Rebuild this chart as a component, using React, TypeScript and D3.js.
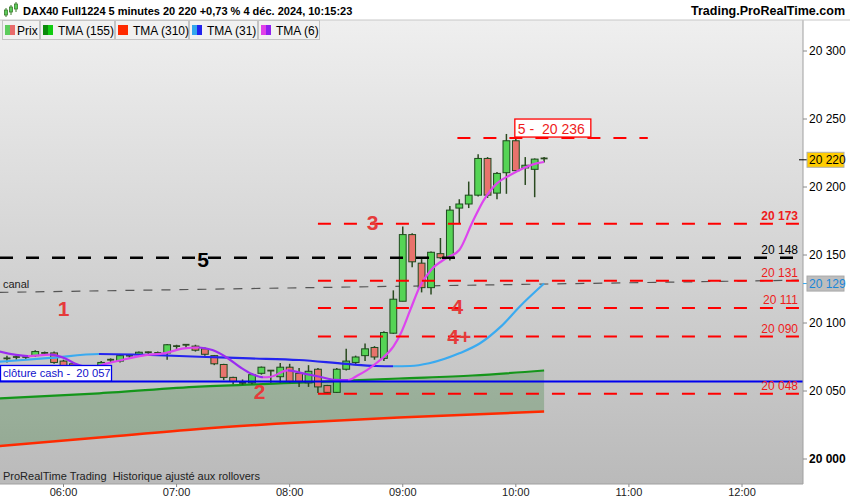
import {useEffect} from 'react';
import * as d3 from 'd3';

// candles, 5 minute bars from 05:30
const candleStart = '05:30';
const opens = [20074, 20074, 20075, 20076, 20078, 20078, 20072, 20070, 20066, 20064, 20068, 20073, 20072, 20076, 20077, 20078.5, 20078, 20078, 20083, 20084, 20083, 20081, 20076, 20069.5, 20060, 20056, 20056, 20063, 20065, 20060.5, 20067.5, 20063, 20056, 20066, 20054, 20049, 20066, 20071, 20076, 20082, 20074, 20092.5, 20116, 20165, 20144, 20126, 20151, 20148, 20184.5, 20187.5, 20194, 20221, 20195.5, 20210.5, 20234, 20214, 20213, 20221];
const highs = [20076, 20077, 20076, 20080, 20079, 20079, 20073, 20071, 20067, 20066, 20072, 20074, 20077, 20077, 20079, 20079, 20079, 20084.5, 20084, 20084.5, 20084, 20082, 20076.5, 20070, 20060.5, 20058.5, 20063, 20068, 20065.5, 20070.5, 20070, 20067, 20069, 20067, 20054.5, 20067, 20081, 20076, 20085, 20083, 20094, 20124, 20171, 20166, 20147, 20152.5, 20162.5, 20186, 20191, 20204, 20224, 20222, 20211, 20239, 20245, 20222, 20221, 20222];
const lows = [20071, 20073, 20073, 20075, 20076, 20070, 20067, 20066, 20063, 20063, 20067, 20071, 20071, 20074, 20076, 20077, 20076, 20073, 20081, 20081, 20079, 20076, 20069, 20058, 20055, 20054.5, 20055, 20062, 20056, 20056, 20056, 20053, 20053, 20048.5, 20048.5, 20048.5, 20065, 20069, 20072, 20073, 20072, 20092, 20116, 20141, 20122.5, 20121, 20147, 20146, 20173.5, 20184.5, 20193, 20192, 20191, 20195, 20211, 20201.5, 20192.5, 20218];
const closes = [20073, 20075, 20074, 20079, 20077, 20071, 20068, 20068, 20064, 20065, 20071, 20072, 20076, 20076, 20078.5, 20077.5, 20077, 20084, 20082, 20084, 20080, 20077, 20070, 20060, 20057, 20056, 20062, 20067.5, 20065, 20067.5, 20057, 20057, 20064.5, 20053, 20049, 20066, 20072, 20075, 20081, 20075, 20093, 20117.5, 20165, 20145, 20126, 20152, 20148, 20183, 20187.5, 20194, 20221, 20194, 20210, 20234, 20212, 20216, 20220.5, 20220];

// TMA (6)
const tma6Times = ['05:26', '05:41', '05:53', '06:01', '06:06', '06:11', '06:15', '06:22', '06:31', '06:42', '06:54', '07:04', '07:12', '07:19', '07:27', '07:34', '07:40', '07:46', '07:50', '07:59', '08:07', '08:16', '08:24', '08:31', '08:36', '08:41', '08:48', '08:55', '08:59', '09:04', '09:09', '09:15', '09:23', '09:30', '09:37', '09:43', '09:50', '09:57', '10:04', '10:11', '10:15'];
const tma6Values = [20079, 20075.7, 20076.8, 20073.9, 20070.2, 20068, 20067.4, 20069.9, 20072.8, 20076, 20077.9, 20081.3, 20082, 20080.1, 20074.3, 20067.3, 20062.5, 20060.1, 20060.5, 20065.1, 20063, 20060.5, 20058.2, 20058, 20061.4, 20065.4, 20072.8, 20082.6, 20092.4, 20109.6, 20126.7, 20139, 20147.6, 20153.7, 20174.3, 20190.4, 20202.7, 20208.8, 20213.8, 20217.4, 20218.4];

// TMA (31)
const tma31Times = ['05:26', '05:53', '06:19', '06:46', '07:12', '07:39', '08:05', '08:30', '08:46', '08:55', '09:04', '09:14', '09:30', '09:41', '09:52', '10:02', '10:15'];
const tma31Values = [20071.5, 20074.3, 20077.2, 20076.5, 20075.2, 20074, 20072.8, 20069.9, 20068.4, 20068.2, 20068.4, 20070.4, 20077.7, 20085.1, 20097.3, 20112, 20129];

// TMA (155) and TMA (310)
const longTimes = ['05:26', '06:19', '07:12', '08:05', '08:58', '09:37', '10:15'];
const tma155Values = [20044.6, 20048.3, 20053.2, 20056.1, 20059.2, 20061.4, 20065.1];
const tma310Values = [20009.6, 20015.8, 20022.1, 20026.8, 20030.5, 20032.7, 20034.9];

const levelPrices = [20173, 20131, 20111, 20090, 20048];
const targetPrice = 20236;
const pivotPrice = 20148;
const cashClose = 20057;
const lastPrice = 20220;
const tma31Last = 20129;
const canalTimes = ['05:26', '12:30'];
const canalValues = [20122.5, 20131.5];

const waveLabels = ['1', '2', '3', '4', '4+', '5'];
const waveTimes = ['06:00', '07:44', '08:44', '09:29', '09:30', '07:14'];
const waveValues = [20111, 20050, 20174.3, 20112.5, 20090.4, 20147];

const priceTicks = [20000, 20050, 20100, 20150, 20200, 20250, 20300];
const timeTicks = ['06:00', '07:00', '08:00', '09:00', '10:00', '11:00', '12:00'];

const legendItems = ['Prix', 'TMA (155)', 'TMA (310)', 'TMA (31)', 'TMA (6)'];

const W = 850;
const H = 500;
const plotRight = 803;
const plotTop = 20;
const plotBottom = 484;
const font = 'Liberation Sans, Arial, sans-serif';

const parse = (s: string) => {
  const [h, m] = s.split(':').map(Number);
  return new Date(2024, 11, 4, h, m);
};

const x = d3.scaleTime().domain([parse('06:00'), parse('12:00')]).range([63.5, 742]);
const y = d3.scaleLinear().domain([20000, 20300]).range([459, 51]);

const fmt = d3.formatLocale({decimal: ',', thousands: ' ', grouping: [3], currency: ['', '']}).format(',d');

const candles = opens.map((o, i) => ({
  t: d3.timeMinute.offset(parse(candleStart), 5 * i),
  o,
  h: highs[i],
  l: lows[i],
  c: closes[i],
}));

const pts = (times: string[], values: number[]) =>
  times.map((t, i) => [x(parse(t)), y(values[i])] as [number, number]);

const line = d3.line().curve(d3.curveMonotoneX);

// hard colour stops: rising colour vs falling colour
const slopeStops = (p: [number, number][], up: string, down: string) => {
  const stops: {o: number; c: string}[] = [];
  for (let k = 0; k < p.length - 1; k++) {
    const c = p[k + 1][1] <= p[k][1] ? up : down;
    stops.push({o: Math.max(0, p[k][0]) / W, c});
    stops.push({o: p[k + 1][0] / W, c});
  }
  return stops;
};

const redText = '#ee1c1c';
const waveRed = '#e53a3a';

const App = () => {
  useEffect(() => {
    document.body.style.margin = '0';
  }, []);

  const p6 = pts(tma6Times, tma6Values);
  const p31 = pts(tma31Times, tma31Values);
  const p155 = pts(longTimes, tma155Values);
  const p310 = pts(longTimes, tma310Values);
  const canal = pts(canalTimes, canalValues);

  const area = d3
    .area<number>()
    .x((i) => x(parse(longTimes[i])))
    .y0((i) => y(tma310Values[i]))
    .y1((i) => y(tma155Values[i]))
    .curve(d3.curveMonotoneX);

  const levelStart = x(parse('08:15'));
  const targetX0 = x(parse('09:29'));
  const targetX1 = x(parse('11:10'));
  const boxX = x(parse('10:00'));

  const legendX = [2, 40, 115, 189, 258, 320];
  const legendColors = [
    ['#5ccc5c', '#e86b6b'],
    ['#0a8a0a', '#10cc10'],
    ['#ff2a00', '#ff2a00'],
    ['#33a6ee', '#2222ee'],
    ['#e040e8', '#9020f0'],
  ];

  return (
    <svg width={W} height={H} style={{display: 'block', fontFamily: font}}>
      <defs>
        <linearGradient id="bg" x1="0" y1="0" x2="0" y2="1">
          <stop offset="0%" stopColor="#efefef" />
          <stop offset="100%" stopColor="#bababa" />
        </linearGradient>
        <linearGradient id="g6" gradientUnits="userSpaceOnUse" x1={0} y1={0} x2={W} y2={0}>
          {slopeStops(p6, '#dd44ee', '#9a2cf0').map((s, i) => (
            <stop key={i} offset={s.o} stopColor={s.c} />
          ))}
        </linearGradient>
        <linearGradient id="g31" gradientUnits="userSpaceOnUse" x1={0} y1={0} x2={W} y2={0}>
          {slopeStops(p31, '#3aaaf0', '#2424ee').map((s, i) => (
            <stop key={i} offset={s.o} stopColor={s.c} />
          ))}
        </linearGradient>
        <clipPath id="plot">
          <rect x={0} y={plotTop} width={plotRight} height={plotBottom - plotTop} />
        </clipPath>
      </defs>

      <rect x={0} y={0} width={W} height={H} fill="#fff" />
      <rect x={0} y={plotTop} width={plotRight} height={plotBottom - plotTop} fill="url(#bg)" />

      <g clipPath="url(#plot)">
        {/* ribbon between the two long averages */}
        <path d={area(longTimes.map((_, i) => i)) ?? ''} fill="rgba(0,100,0,0.21)" />
        <path d={line(p310) ?? ''} fill="none" stroke="#ff2a00" strokeWidth={2.5} />
        <path d={line(p155) ?? ''} fill="none" stroke="#14961a" strokeWidth={2.2} />

        {/* canal */}
        <line x1={canal[0][0]} y1={canal[0][1]} x2={canal[1][0]} y2={canal[1][1]} stroke="#555" strokeWidth={1.2} strokeDasharray="9 9" />

        {/* candles */}
        {candles.map((d, i) => {
          const cx = x(d.t);
          const up = d.c >= d.o;
          const top = y(Math.max(d.o, d.c));
          const bot = y(Math.min(d.o, d.c));
          const doji = bot - top < 1.5;
          return (
            <g key={i}>
              <line x1={cx} x2={cx} y1={y(d.h)} y2={y(d.l)} stroke="#2a4a20" strokeWidth={1.5} />
              {doji ? (
                <line x1={cx - 3.5} x2={cx + 3.5} y1={top} y2={top} stroke="#2a4a20" strokeWidth={1.8} />
              ) : (
                <rect
                  x={cx - 3.4}
                  y={top}
                  width={6.8}
                  height={bot - top}
                  fill={up ? '#55d455' : '#e8736c'}
                  stroke="#1e4a1e"
                  strokeWidth={1}
                />
              )}
            </g>
          );
        })}

        <path d={line(p31) ?? ''} fill="none" stroke="url(#g31)" strokeWidth={2.2} />
        <path d={line(p6) ?? ''} fill="none" stroke="url(#g6)" strokeWidth={2.2} />

        {/* level lines */}
        {levelPrices.map((v) => (
          <line key={v} x1={levelStart} x2={plotRight} y1={y(v)} y2={y(v)} stroke="#ff0000" strokeWidth={2} strokeDasharray="13 13" />
        ))}
        <line x1={targetX0} x2={targetX1} y1={y(targetPrice)} y2={y(targetPrice)} stroke="#ff0000" strokeWidth={2} strokeDasharray="13 13" />
        <line x1={0} x2={plotRight} y1={y(pivotPrice)} y2={y(pivotPrice)} stroke="#000" strokeWidth={2.5} strokeDasharray="13 13" />
        <line x1={0} x2={plotRight} y1={y(cashClose)} y2={y(cashClose)} stroke="#0000ee" strokeWidth={2} />

        {levelPrices.map((v, i) => (
          <text key={v} x={798} y={y(v) - 4} textAnchor="end" fontSize={12} fill={redText} fontWeight={i === 0 ? 'bold' : 'normal'}>
            {fmt(v)}
          </text>
        ))}
        <text x={798} y={y(pivotPrice) - 4} textAnchor="end" fontSize={12} fill="#000">
          {fmt(pivotPrice)}
        </text>

        <text x={3} y={canal[0][1] - 4} fontSize={11} fill="#222">canal</text>

        {/* wave counts */}
        {waveLabels.map((s, i) => (
          <text
            key={s}
            x={x(parse(waveTimes[i]))}
            y={y(waveValues[i])}
            dy="0.36em"
            textAnchor="middle"
            fontSize={21}
            fontWeight="bold"
            fill={s === '5' ? '#000' : waveRed}
          >
            {s}
          </text>
        ))}

        {/* target box */}
        <rect x={boxX - 1} y={y(targetPrice) - 19} width={76} height={18} fill="#fff" stroke="#ff0000" strokeWidth={1.3} />
        <text x={boxX + 2} y={y(targetPrice) - 4.5} fontSize={14} fill={redText} xmlSpace="preserve">
          {`5 -  ${fmt(targetPrice)}`}
        </text>

        {/* cash close box */}
        <rect x={0.5} y={y(cashClose) - 16} width={111} height={15.5} fill="#fff" stroke="#0000ee" strokeWidth={1.3} />
        <text x={3} y={y(cashClose) - 4.5} fontSize={11.2} fill="#1010cc" xmlSpace="preserve">
          {`clôture cash -  ${fmt(cashClose)}`}
        </text>

        <text x={3} y={480} fontSize={11} fill="#222" xmlSpace="preserve">
          ProRealTime Trading  Historique ajusté aux rollovers
        </text>
      </g>

      {/* right axis */}
      <line x1={plotRight} x2={plotRight} y1={plotTop} y2={plotBottom} stroke="#a0a0a0" />
      {priceTicks.map((v) => (
        <g key={v}>
          <line x1={plotRight} x2={plotRight + 4} y1={y(v)} y2={y(v)} stroke="#888" />
          <text x={plotRight + 6} y={y(v)} dy="0.35em" fontSize={12} fill="#000" fontWeight={v === 20000 ? 'bold' : 'normal'}>
            {fmt(v)}
          </text>
        </g>
      ))}
      <line x1={799} x2={plotRight + 4} y1={y(lastPrice)} y2={y(lastPrice)} stroke="#000" />
      <rect x={807} y={y(lastPrice) - 7.5} width={37} height={15} fill="#ffcc00" stroke="#b0b0b0" />
      <text x={809} y={y(lastPrice)} dy="0.35em" fontSize={12} fill="#000">
        {fmt(lastPrice)}
      </text>
      <line x1={plotRight} x2={plotRight + 5} y1={y(tma31Last)} y2={y(tma31Last)} stroke="#33a6ee" />
      <rect x={807} y={y(tma31Last) - 7.5} width={37} height={15} fill="#bdbdbd" stroke="#a8a8a8" />
      <text x={809} y={y(tma31Last)} dy="0.35em" fontSize={12} fill="#1a86d8">
        {fmt(tma31Last)}
      </text>

      {/* bottom axis */}
      <line x1={0} x2={plotRight} y1={plotBottom} y2={plotBottom} stroke="#a0a0a0" />
      {timeTicks.map((t) => (
        <g key={t}>
          <line x1={x(parse(t))} x2={x(parse(t))} y1={plotBottom} y2={plotBottom + 3} stroke="#888" />
          <text x={x(parse(t))} y={496} textAnchor="middle" fontSize={11} fill="#222">
            {d3.timeFormat('%H:%M')(parse(t))}
          </text>
        </g>
      ))}

      {/* header */}
      <line x1={0} x2={W} y1={plotTop} y2={plotTop} stroke="#c8c8c8" />
      <g>
        <line x1={6} x2={6} y1={8} y2={17} stroke="#3a7a2a" />
        <rect x={4.5} y={10} width={3} height={5} fill="#5ccc5c" stroke="#3a7a2a" strokeWidth={0.8} />
        <line x1={11} x2={11} y1={5} y2={15} stroke="#3a7a2a" />
        <rect x={9.5} y={7} width={3} height={5} fill="#5ccc5c" stroke="#3a7a2a" strokeWidth={0.8} />
        <line x1={16} x2={16} y1={2} y2={12} stroke="#3a7a2a" />
        <rect x={14.5} y={4} width={3} height={5} fill="#5ccc5c" stroke="#3a7a2a" strokeWidth={0.8} />
      </g>
      <text x={23} y={15} fontSize={11} fontWeight="bold" fill="#000">
        DAX40 Full1224 5 minutes 20 220 +0,73 % 4 déc. 2024, 10:15:23
      </text>
      <text x={845} y={15} fontSize={12.5} fontWeight="bold" fill="#000" textAnchor="end">
        Trading.ProRealTime.com
      </text>

      {/* legend */}
      {legendItems.map((s, i) => (
        <g key={s}>
          <rect x={legendX[i] + 0.5} y={plotTop + 0.5} width={legendX[i + 1] - legendX[i] - 1} height={19} fill="#f1f1f1" stroke="#c4c4c4" />
          <rect x={legendX[i] + 3} y={plotTop + 5} width={5} height={10} fill={legendColors[i][0]} />
          <rect x={legendX[i] + 8} y={plotTop + 5} width={5} height={10} fill={legendColors[i][1]} />
          <text x={legendX[i] + (i === 0 ? 15 : 18)} y={plotTop + 14.5} fontSize={12} fill="#000">
            {s}
          </text>
        </g>
      ))}
    </svg>
  );
};

export default App;
